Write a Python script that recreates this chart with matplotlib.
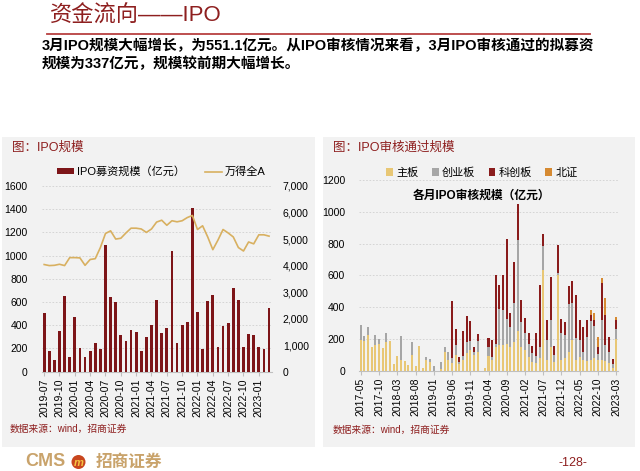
import numpy as np
import pandas as pd
import matplotlib
matplotlib.use('Agg')
import matplotlib.pyplot as plt
from matplotlib.patches import Rectangle, Ellipse, Patch
from matplotlib.lines import Line2D
from matplotlib.ticker import FuncFormatter

plt.rcParams['font.family'] = ['Liberation Sans', 'Noto Sans CJK SC']
plt.rcParams['axes.unicode_minus'] = False

# ---- left chart: monthly IPO amount and Wind All A ----
ipo_months = pd.period_range('2019-07', '2023-03', freq='M').strftime('%Y-%m').tolist()
ipo_amount = [510, 175, 100, 350, 650, 130, 470, 205, 125, 180, 250, 195,
              1090, 640, 600, 320, 265, 355, 345, 175, 300, 405, 620, 330,
              375, 1040, 250, 400, 430, 1410, 515, 195, 610, 660, 210, 390,
              420, 725, 615, 215, 325, 320, 215, 195, 551.1]
wind_all_a = [4040, 4000, 4010, 4050, 4000, 4300, 4300, 4290, 4010, 4230, 4260, 4680,
              5210, 5310, 5000, 5030, 5230, 5410, 5410, 5380, 5250, 5380, 5640, 5710,
              5520, 5690, 5650, 5690, 5810, 5890, 5360, 5500, 5080, 4600, 4960, 5360,
              5230, 5080, 4680, 4550, 4890, 4820, 5160, 5160, 5110]

# ---- right chart: IPO approvals by board ----
audit_months = pd.period_range('2017-05', '2023-03', freq='M').strftime('%Y-%m').tolist()
main_board = [195, 190, 225, 150, 160, 170, 140, 180, 185, 45, 95, 65, 58, 35, 100, 32,
              155, 20, 65, 55, 0, 0, 10, 120, 70, 50, 100, 40, 70, 110, 130, 100,
              120, 0, 15, 90, 70, 150, 160, 162, 170, 150, 183, 250, 152, 130, 88, 57,
              50, 80, 636, 67, 152, 57, 600, 67, 78, 120, 194, 67, 88, 67, 60, 67,
              80, 67, 70, 60, 50, 20, 200]
chinext = [90, 30, 50, 0, 62, 30, 0, 60, 0, 0, 0, 155, 0, 0, 80, 0,
           0, 0, 20, 20, 32, 0, 47, 28, 46, 30, 62, 17, 20, 70, 60, 20,
           65, 0, 0, 60, 14, 20, 230, 221, 155, 128, 242, 570, 157, 106, 80, 52,
           40, 70, 147, 127, 168, 42, 15, 168, 147, 300, 231, 137, 106, 53, 150, 245,
           200, 40, 250, 100, 70, 20, 60]
star_market = [0, 0, 0, 0, 0, 0, 0, 0, 0, 0, 0, 0, 0, 0, 0, 0,
               0, 0, 0, 0, 0, 0, 0, 0, 0, 356, 103, 31, 162, 165, 124, 27,
               43, 0, 0, 56, 110, 430, 151, 221, 504, 88, 259, 226, 137, 94, 72, 47,
               146, 391, 78, 126, 270, 57, 174, 89, 84, 115, 137, 274, 126, 152, 110, 40,
               40, 45, 233, 190, 90, 35, 60]
bse = [0] * 63 + [31, 42, 63, 30, 110, 0, 0, 17]

DARK_RED = '#7d1518'
TITLE_RED = '#8e1f1f'
GOLD = '#d8b060'
C_MAIN = '#e8c775'
C_GEM = '#a6a6a6'
C_STAR = '#8a1c1c'
C_BSE = '#d68a32'
GRID = '#d0d0d0'
PANEL = '#f2f2f2'

W, H = 640, 471
fig = plt.figure(figsize=(6.4, 4.71), dpi=100)


def fx(x):
    return x / W


def fy(y):
    return 1 - y / H


# header
fig.text(fx(50), fy(16), '资金流向——IPO', color=TITLE_RED, fontsize=16, weight='medium', va='center', ha='left')
fig.add_artist(Line2D([fx(47), fx(590)], [fy(33.5), fy(33.5)], color='#b84040', lw=1.3))
fig.text(fx(42), fy(46), '3月IPO规模大幅增长，为551.1亿元。从IPO审核情况来看，3月IPO审核通过的拟募资',
         fontsize=10.5, weight='bold', va='center', ha='left')
fig.text(fx(42), fy(64), '规模为337亿元，规模较前期大幅增长。',
         fontsize=10.5, weight='bold', va='center', ha='left')

# grey panels
for x0, x1 in [(2, 315), (323, 635)]:
    fig.add_artist(Rectangle((fx(x0), fy(447)), (x1 - x0) / W, 310 / H,
                             transform=fig.transFigure, facecolor=PANEL, edgecolor='none', zorder=0))

fig.text(fx(12), fy(148), '图：IPO规模', color=TITLE_RED, fontsize=9, va='center')
fig.text(fx(333), fy(148), '图：IPO审核通过规模', color=TITLE_RED, fontsize=9, va='center')
fig.text(fx(10), fy(429), '数据来源：wind，招商证券', color=TITLE_RED, fontsize=7, va='center')
fig.text(fx(333), fy(430), '数据来源：wind，招商证券', color=TITLE_RED, fontsize=7, va='center')


def style_x(ax, labels, step):
    ax.set_xticks(range(0, len(labels), step))
    ax.set_xticklabels(labels[::step], rotation=90, fontsize=7.5)
    ax.tick_params(axis='x', length=3, color='#bfbfbf', pad=2)
    ax.tick_params(axis='y', length=0, labelsize=7.5, pad=10)
    for s in ['top', 'left', 'right']:
        ax.spines[s].set_visible(False)
    ax.spines['bottom'].set_color('#bfbfbf')
    ax.yaxis.grid(True, linestyle=(0, (2, 2)), color=GRID, lw=0.6)
    ax.set_axisbelow(True)
    ax.set_facecolor('none')


# left chart
ax1 = fig.add_axes([fx(41.6), fy(371.7), 230 / W, (371.7 - 186) / H])
x1 = np.arange(len(ipo_months))
ax1.bar(x1, ipo_amount, width=0.55, color=DARK_RED, zorder=3)
ax1.set_xlim(-0.5, len(ipo_months) - 0.5)
ax1.set_ylim(0, 1600)
ax1.set_yticks(range(0, 1601, 200))
style_x(ax1, ipo_months, 3)

ax1r = ax1.twinx()
ax1r.plot(x1, wind_all_a, color=GOLD, lw=1.2, zorder=4)
ax1r.set_ylim(0, 7000)
ax1r.set_yticks(range(0, 7001, 1000))
ax1r.yaxis.set_major_formatter(FuncFormatter(lambda v, p: f'{int(v):,}'))
ax1r.tick_params(axis='y', length=0, labelsize=7.5, pad=8)
for s in ax1r.spines.values():
    s.set_visible(False)

h1 = [Patch(facecolor=DARK_RED, edgecolor='none'), Line2D([0], [0], color=GOLD, lw=1.2)]
fig.legend(h1, ['IPO募资规模（亿元）', '万得全A'], loc='center', bbox_to_anchor=(fx(161), fy(171.7)),
           ncol=2, frameon=False, fontsize=8, handlelength=1.6, handleheight=0.45,
           columnspacing=1.8, handletextpad=0.2)

# right chart
ax2 = fig.add_axes([fx(359), fy(370.7), 259 / W, (370.7 - 180) / H])
x2 = np.arange(len(audit_months))
b1 = np.array(main_board)
b2 = b1 + np.array(chinext)
b3 = b2 + np.array(star_market)
ax2.bar(x2, main_board, width=0.55, color=C_MAIN, zorder=3)
ax2.bar(x2, chinext, width=0.55, bottom=b1, color=C_GEM, zorder=3)
ax2.bar(x2, star_market, width=0.55, bottom=b2, color=C_STAR, zorder=3)
ax2.bar(x2, bse, width=0.55, bottom=b3, color=C_BSE, zorder=3)
ax2.set_xlim(-0.5, len(audit_months) - 0.5)
ax2.set_ylim(0, 1200)
ax2.set_yticks(range(0, 1201, 200))
style_x(ax2, audit_months, 5)

h2 = [Patch(facecolor=c, edgecolor='none') for c in [C_MAIN, C_GEM, C_STAR, C_BSE]]
fig.legend(h2, ['主板', '创业板', '科创板', '北证'], loc='center', bbox_to_anchor=(fx(482), fy(172.7)),
           ncol=4, frameon=False, fontsize=8, handlelength=0.6, handleheight=0.6,
           columnspacing=1.2, handletextpad=0.3)
fig.text(fx(482), fy(196), '各月IPO审核规模（亿元）', ha='center', va='center', fontsize=8.5, weight='bold')

# footer
fig.text(fx(25), fy(462), 'CMS', color='#c9a36b', fontsize=13, weight='bold', va='center')
fig.add_artist(Ellipse((fx(78.5), fy(462)), 14 / W, 14 / H, transform=fig.transFigure,
                       facecolor='#c8461e', edgecolor='none'))
fig.text(fx(78.5), fy(462.5), 'm', color='#f5c542', fontsize=8, weight='bold', style='italic',
         ha='center', va='center')
fig.text(fx(96), fy(462), '招商证券', color='#c9a36b', fontsize=12, weight='bold', va='center')
fig.text(fx(573), fy(463), '-128-', color=TITLE_RED, fontsize=9, ha='center', va='center')

fig.savefig('out.png', dpi=100)
